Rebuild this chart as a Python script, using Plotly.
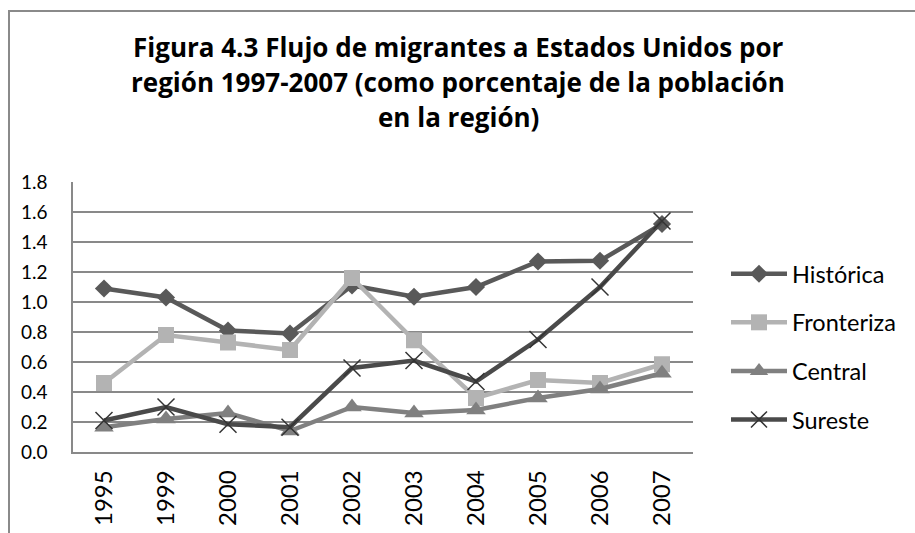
import plotly.graph_objects as go

years = ["1995", "1999", "2000", "2001", "2002", "2003", "2004", "2005", "2006", "2007"]
historica = [1.09, 1.03, 0.81, 0.79, 1.11, 1.035, 1.10, 1.27, 1.275, 1.52]
fronteriza = [0.46, 0.78, 0.73, 0.68, 1.16, 0.745, 0.36, 0.48, 0.46, 0.585]
central = [0.165, 0.22, 0.26, 0.14, 0.30, 0.26, 0.28, 0.36, 0.42, 0.525]
sureste = [0.21, 0.30, 0.185, 0.165, 0.56, 0.61, 0.47, 0.75, 1.10, 1.54]
title_lines = [
    "Figura 4.3 Flujo de migrantes a Estados Unidos por",
    "región 1997-2007 (como porcentaje de la población",
    "en la región)",
]
y_ticks = [0.0, 0.2, 0.4, 0.6, 0.8, 1.0, 1.2, 1.4, 1.6, 1.8]

W, H = 915, 533
L, R, T, B = 73, 693, 182, 452


def px_x(p):
    return (p - L) / (R - L)


def px_y(p):
    return (B - p) / (B - T)


series = [
    ("Histórica", historica, "#595959", dict(symbol="diamond", size=14, color="#595959")),
    ("Fronteriza", fronteriza, "#b3b3b3", dict(symbol="square", size=16, color="#b3b3b3")),
    ("Central", central, "#808080", dict(symbol="triangle-up", size=17, color="#808080")),
    ("Sureste", sureste, "#4a4a4a", dict(symbol="x-thin", size=17, color="#333333",
                                         line=dict(color="#333333", width=1.5))),
]

fig = go.Figure()
for name, vals, col, mk in series:
    fig.add_trace(go.Scatter(
        x=years, y=vals, name=name, mode="lines+markers",
        line=dict(color=col, width=4.5), marker=mk, legendgroup=name,
    ))

fig.update_layout(
    width=W, height=H,
    margin=dict(l=L, r=W - R, t=T, b=H - B, pad=0),
    paper_bgcolor="white", plot_bgcolor="white",
    font=dict(family="Lato", color="#000000"),
    showlegend=True,
    legend=dict(
        x=px_x(726), y=px_y(252), xanchor="left", yanchor="top",
        font=dict(family="Lato", size=23.5, color="#000000"),
        tracegroupgap=15, itemwidth=56, bgcolor="rgba(0,0,0,0)",
    ),
    xaxis=dict(
        type="category", categoryorder="array", categoryarray=years,
        range=[-0.5, len(years) - 0.5], automargin=False,
        showgrid=False, showline=True, linecolor="#898989", linewidth=1.5,
        tickangle=-90, tickfont=dict(family="Lato", size=24, color="#000000"),
        ticks="", ticklabelstandoff=7,
    ),
    yaxis=dict(
        range=[0, 1.8], tickvals=y_ticks, tickformat=".1f", automargin=False,
        showgrid=True, gridcolor="#898989", gridwidth=1.5,
        showline=True, linecolor="#898989", linewidth=1.5,
        zeroline=False, ticks="",
        tickfont=dict(family="Lato", size=19, color="#000000"),
        ticklabelstandoff=20,
    ),
)

# Title lines
for line, py in zip(title_lines, [47, 82, 117]):
    fig.add_annotation(
        text="<b>" + line + "</b>", x=px_x(458), y=px_y(py), xref="paper", yref="paper",
        xanchor="center", yanchor="middle", showarrow=False,
        font=dict(family="Open Sans", size=26, color="#000000"),
    )

# Chart frame
fig.add_shape(type="rect", xref="paper", yref="paper",
              x0=px_x(9), x1=px_x(940), y0=px_y(560), y1=px_y(11),
              line=dict(color="#8a8a8a", width=2), fillcolor="rgba(0,0,0,0)", layer="below")

fig.write_html("out.html", config={"displayModeBar": False},
               post_script="document.body.style.margin='0';")
